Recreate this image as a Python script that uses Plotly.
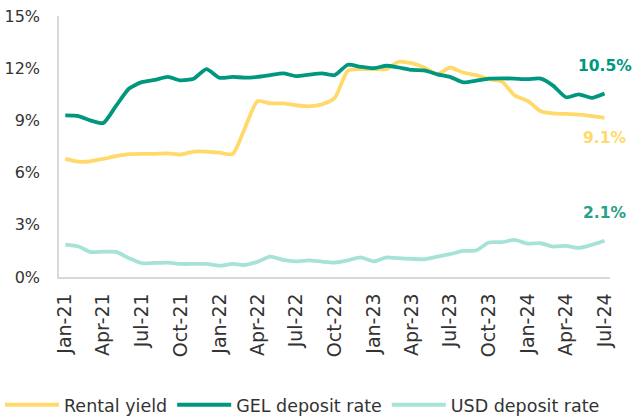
import pandas as pd
import plotly.graph_objects as go

months = pd.date_range("2021-01-01", periods=43, freq="MS")

rental_yield = [6.79, 6.63, 6.65, 6.79, 6.94, 7.06, 7.08, 7.08, 7.10, 7.04, 7.21, 7.21,
                7.15, 7.06, 8.48, 10.10, 9.98, 9.98, 9.87, 9.81, 9.92, 10.29, 11.85, 11.95,
                11.95, 11.95, 12.37, 12.29, 12.04, 11.65, 12.04, 11.75, 11.60, 11.37, 11.23, 10.44,
                10.12, 9.52, 9.40, 9.37, 9.33, 9.25, 9.15]
gel_rate = [9.29, 9.25, 9.00, 8.85, 9.83, 10.83, 11.20, 11.33, 11.50, 11.30, 11.40, 11.95,
            11.45, 11.50, 11.46, 11.50, 11.60, 11.70, 11.55, 11.63, 11.70, 11.60, 12.20, 12.08,
            12.00, 12.14, 12.04, 11.90, 11.87, 11.65, 11.50, 11.19, 11.28, 11.40, 11.42, 11.40,
            11.37, 11.40, 11.00, 10.33, 10.50, 10.29, 10.54]
usd_rate = [1.86, 1.75, 1.44, 1.46, 1.44, 1.08, 0.79, 0.81, 0.83, 0.75, 0.75, 0.75,
            0.65, 0.75, 0.69, 0.87, 1.17, 0.98, 0.90, 0.96, 0.88, 0.83, 0.96, 1.13,
            0.90, 1.13, 1.08, 1.04, 1.02, 1.17, 1.31, 1.50, 1.52, 1.98, 2.00, 2.13,
            1.92, 1.94, 1.75, 1.79, 1.67, 1.85, 2.08]

series_names = ["Rental yield", "GEL deposit rate", "USD deposit rate"]
end_labels = ["9.1%", "10.5%", "2.1%"]
y_ticks = [0, 3, 6, 9, 12, 15]
y_tick_text = ["0%", "3%", "6%", "9%", "12%", "15%"]

c_yellow = "#FFDA6B"
c_gel = "#00977F"
c_usd = "#A6E3D6"
c_lbl2 = "#2AA088"

fig = go.Figure()
for name, vals, col in zip(series_names, [rental_yield, gel_rate, usd_rate], [c_yellow, c_gel, c_usd]):
    fig.add_trace(go.Scatter(x=months, y=vals, name=name, mode="lines",
                             line=dict(color=col, width=3.8, shape="spline", smoothing=0.6)))

font_fam = "'DejaVu Sans', sans-serif"
ann = [
    (end_labels[1], gel_rate[-1], 28, c_gel),
    (end_labels[0], rental_yield[-1], -20, c_yellow),
    (end_labels[2], usd_rate[-1], 28, c_lbl2),
]
for txt, yv, ys, col in ann:
    fig.add_annotation(x=months[-1], y=yv, text="<b>" + txt + "</b>", showarrow=False,
                       xanchor="center", yanchor="middle", yshift=ys,
                       font=dict(size=15.5, color=col, family=font_fam))

fig.update_layout(
    width=632, height=416,
    margin=dict(l=59, r=22, t=16, b=139, autoexpand=False),
    paper_bgcolor="white", plot_bgcolor="white",
    font=dict(family=font_fam, color="#333333", size=16),
    showlegend=True,
    legend=dict(orientation="h", x=-0.1071, y=-0.49,
                xanchor="left", yanchor="middle", font=dict(size=17.5, color="#333333"),
                itemwidth=54, tracegroupgap=0),
    xaxis=dict(range=[pd.Timestamp("2020-12-17"), pd.Timestamp("2024-07-14")],
               tickformat="%b-%y", dtick="M3", tick0="2021-01-01", tickangle=-90,
               showgrid=False, showline=True, linecolor="#D9D9D9", linewidth=1.5,
               ticks="", ticklabelstandoff=7, tickfont=dict(size=19, color="#333333"),
               zeroline=False, automargin=False),
    yaxis=dict(range=[0, 15], tickvals=y_ticks, ticktext=y_tick_text,
               showgrid=False, showline=True, linecolor="#D9D9D9", linewidth=1.5,
               ticks="", ticklabelstandoff=14, tickfont=dict(size=16, color="#333333"),
               zeroline=False, automargin=False),
)

fig.write_html("out.html", config={"displayModeBar": False},
               post_script="document.body.style.margin='0';")
